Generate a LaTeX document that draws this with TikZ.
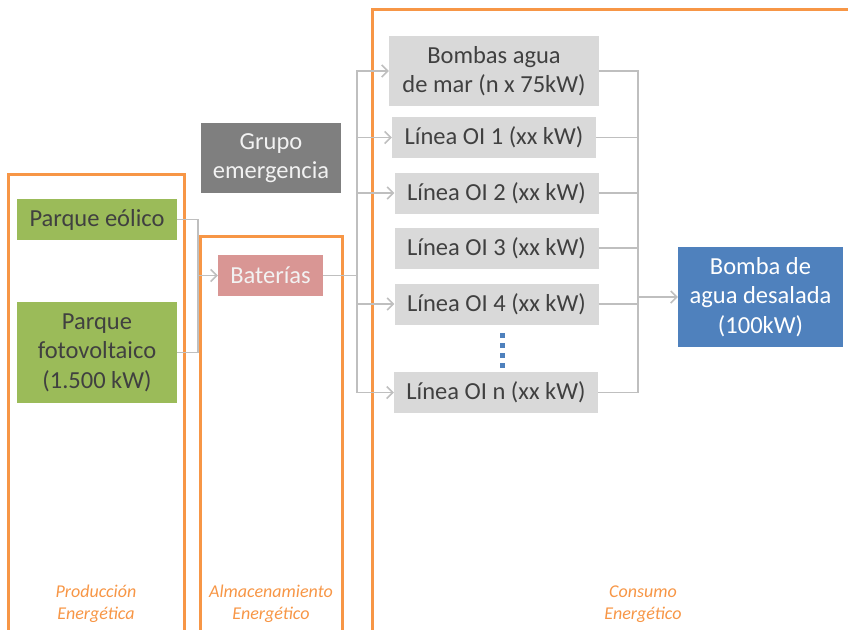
\documentclass[tikz,border=0pt]{standalone}
\usepackage{fontspec}
\setmainfont{Carlito}
\usepackage{tikz}
\usetikzlibrary{arrows.meta, positioning}

\definecolor{naranja}{HTML}{F79646}
\definecolor{verde}{HTML}{9BBB59}
\definecolor{grisclaro}{HTML}{D9D9D9}
\definecolor{grisoscuro}{HTML}{7F7F7F}
\definecolor{rosa}{HTML}{D99694}
\definecolor{azul}{HTML}{4F81BD}
\definecolor{texto}{HTML}{404040}
\definecolor{linea}{HTML}{BFBFBF}

\begin{document}
\begin{tikzpicture}[
    x=1pt, y=-1pt,
    box style/.style={rectangle, inner sep=0pt, align=center, text=texto, font=\fontsize{24.5}{29.5}\selectfont},
    gris style/.style={box style, fill=grisclaro, minimum width=204pt, minimum height=41pt},
    verde style/.style={box style, fill=verde, minimum width=160pt},
    marco style/.style={draw=naranja, line width=3pt},
    etiqueta style/.style={align=center, text=naranja, font=\fontsize{18}{21.5}\selectfont\itshape},
    conn style/.style={draw=linea, line width=1.5pt},
    flecha style/.style={conn style, -{Straight Barb[length=6pt, width=12pt]}}
]
\useasboundingbox (0,0) rectangle (848,629);

% marcos
\draw[marco style] (8,631) |- (184,174) -- (184,631);
\draw[marco style] (200,631) |- (342,236) -- (342,631);
\draw[marco style] (372,631) |- (852,9);

\node[etiqueta style] (prod) at (96,604) {Producción\\Energética};
\node[etiqueta style] (alm) at (271,604) {Almacenamiento\\Energético};
\node[etiqueta style] (cons) at (643,604) {Consumo\\Energético};

% produccion y almacenamiento
\node[verde style, minimum height=41pt] (eolico) at (97,219.5) {Parque eólico};
\node[verde style, minimum height=101pt] (foto) at (97,352.5) {Parque\\fotovoltaico\\(1.500 kW)};
\node[box style, fill=grisoscuro, text=white!95!black, minimum width=140pt, minimum height=70pt] (grupo) at (271,158) {Grupo\\emergencia};
\node[box style, fill=rosa, text=white!95!black, minimum width=105pt, minimum height=41pt] (baterias) at (270.5,275.5) {Baterías};

% consumo
\node[gris style, minimum width=210pt, minimum height=70pt] (bombas) at (494,71) {Bombas agua\\de mar (n x 75kW)};
\node[gris style] (oi1) at (494,137.5) {Línea OI 1 (xx kW)};
\node[gris style] (oi2) at (496.5,193) {Línea OI 2 (xx kW)};
\node[gris style] (oi3) at (496.5,248) {Línea OI 3 (xx kW)};
\node[gris style] (oi4) at (496.5,304) {Línea OI 4 (xx kW)};
\node[gris style] (oin) at (496,392.5) {Línea OI n (xx kW)};
\node[box style, fill=azul, text=white, minimum width=165pt, minimum height=100pt] (desalada) at (760.5,297) {Bomba de\\agua desalada\\(100kW)};

\foreach \y in {333,343,353,363}
    \fill[azul] (500,\y) rectangle ++(4.5,4.5);

% conexiones
\coordinate (bus1) at (198,275.5);
\coordinate (bus2) at (357,275.5);
\coordinate (bus3) at (638,297);

\draw[conn style] (eolico.east) -| (bus1);
\draw[conn style] (foto.east) -| (bus1);
\draw[flecha style] (bus1) -- (baterias.west);

\draw[conn style] (baterias.east) -- (bus2);
\foreach \n in {bombas, oi1, oi2, oi4, oin}
    \draw[flecha style] (bus2) |- (\n.west);

\foreach \n in {bombas, oi1, oi2, oi3, oi4, oin}
    \draw[conn style] (\n.east) -| (bus3);
\draw[flecha style] (bus3) -- (desalada.west);
\end{tikzpicture}
\end{document}
